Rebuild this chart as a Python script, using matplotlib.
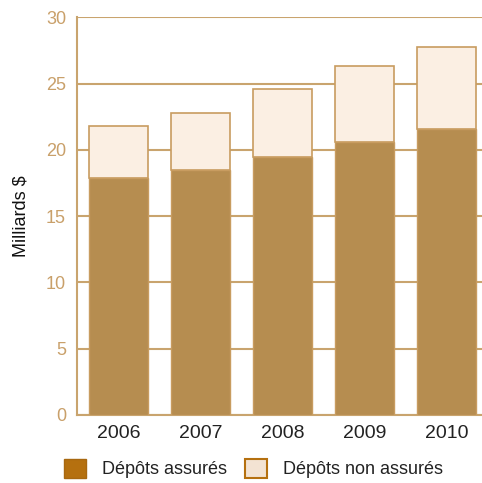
import matplotlib.pyplot as plt
from matplotlib.patches import Patch

annees = ["2006", "2007", "2008", "2009", "2010"]
assures = [17.9, 18.5, 19.5, 20.6, 21.6]
non_assures = [3.9, 4.25, 5.1, 5.7, 6.2]
yticks = [0, 5, 10, 15, 20, 25, 30]

plt.rcParams['font.family'] = ['Liberation Sans', 'DejaVu Sans']

tan = "#c9a46e"
fig = plt.figure(figsize=(4.82, 4.83), dpi=100)
ax = fig.add_axes([0.16, 0.141, 0.84, 0.823])

x = range(len(annees))
ax.bar(x, assures, width=0.71, color="#b68d50", edgecolor="#c89c60", linewidth=1, zorder=3)
ax.bar(x, non_assures, bottom=assures, width=0.71, color="#fbefe3",
       edgecolor="#c89c60", linewidth=1.2, zorder=3)

ax.set_xlim(-0.506, 4.433)
ax.set_ylim(0, 30)
ax.set_yticks(yticks)
ax.set_xticks(list(x))
ax.set_xticklabels(annees)
ax.tick_params(axis='y', length=0, pad=8, labelsize=13, labelcolor="#c9a06a")
ax.tick_params(axis='x', length=0, pad=7, labelsize=14, labelcolor="#222222")
ax.yaxis.grid(True, color=tan, linewidth=1.5, zorder=0)
ax.set_axisbelow(True)

for s in ["top", "right"]:
    ax.spines[s].set_visible(False)
for s in ["left", "bottom"]:
    ax.spines[s].set_color(tan)
    ax.spines[s].set_linewidth(1.5)

ax.set_ylabel("Milliards $", fontsize=13, color="#111111", labelpad=12)

# légende en bas, deux colonnes
handles = [
    Patch(facecolor="#b5700f", edgecolor="#a86810", label="Dépôts assurés"),
    Patch(facecolor="#f3e3d3", edgecolor="#b5700f", linewidth=1.5, label="Dépôts non assurés"),
]
fig.legend(handles=handles, loc="lower left", bbox_to_anchor=(0.1, -0.024), ncol=2,
           frameon=False, fontsize=13, handlelength=1.2, handleheight=1.2,
           columnspacing=1.0, handletextpad=0.9, labelcolor="#222222")

fig.savefig("out.png", dpi=100)
